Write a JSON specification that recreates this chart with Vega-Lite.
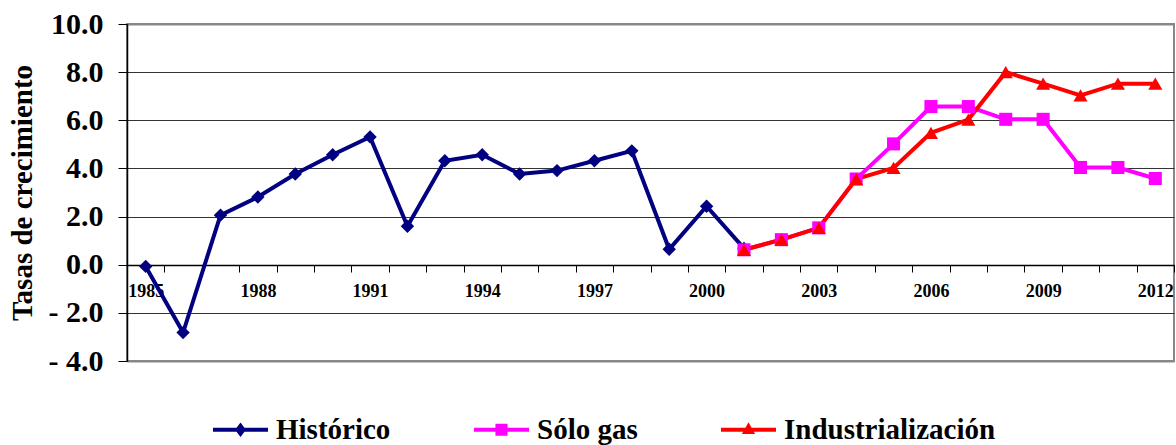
{
  "$schema": "https://vega.github.io/schema/vega-lite/v6.json",
  "width": 1047,
  "height": 337,
  "autosize": {"type": "none"},
  "padding": {"left": 127, "top": 24, "right": 2, "bottom": 84},
  "background": "white",
  "config": {
    "font": "Liberation Serif",
    "view": {"stroke": "#888888", "strokeWidth": 2}
  },
  "data": {
    "values": [
      {"year": 1985, "series": "Histórico", "value": -0.07},
      {"year": 1986, "series": "Histórico", "value": -2.82},
      {"year": 1987, "series": "Histórico", "value": 2.06},
      {"year": 1988, "series": "Histórico", "value": 2.81},
      {"year": 1989, "series": "Histórico", "value": 3.77},
      {"year": 1990, "series": "Histórico", "value": 4.57},
      {"year": 1991, "series": "Histórico", "value": 5.31},
      {"year": 1992, "series": "Histórico", "value": 1.6},
      {"year": 1993, "series": "Histórico", "value": 4.32},
      {"year": 1994, "series": "Histórico", "value": 4.57},
      {"year": 1995, "series": "Histórico", "value": 3.77},
      {"year": 1996, "series": "Histórico", "value": 3.91},
      {"year": 1997, "series": "Histórico", "value": 4.32},
      {"year": 1998, "series": "Histórico", "value": 4.73},
      {"year": 1999, "series": "Histórico", "value": 0.64},
      {"year": 2000, "series": "Histórico", "value": 2.43},
      {"year": 2001, "series": "Histórico", "value": 0.68},
      {"year": 2001, "series": "Sólo gas", "value": 0.62},
      {"year": 2002, "series": "Sólo gas", "value": 1.04},
      {"year": 2003, "series": "Sólo gas", "value": 1.53},
      {"year": 2004, "series": "Sólo gas", "value": 3.56},
      {"year": 2005, "series": "Sólo gas", "value": 5.02},
      {"year": 2006, "series": "Sólo gas", "value": 6.57},
      {"year": 2007, "series": "Sólo gas", "value": 6.57},
      {"year": 2008, "series": "Sólo gas", "value": 6.04},
      {"year": 2009, "series": "Sólo gas", "value": 6.04},
      {"year": 2010, "series": "Sólo gas", "value": 4.04},
      {"year": 2011, "series": "Sólo gas", "value": 4.04},
      {"year": 2012, "series": "Sólo gas", "value": 3.58},
      {"year": 2001, "series": "Industrialización", "value": 0.62},
      {"year": 2002, "series": "Industrialización", "value": 1.04},
      {"year": 2003, "series": "Industrialización", "value": 1.53},
      {"year": 2004, "series": "Industrialización", "value": 3.56},
      {"year": 2005, "series": "Industrialización", "value": 4.02},
      {"year": 2006, "series": "Industrialización", "value": 5.48},
      {"year": 2007, "series": "Industrialización", "value": 6.03},
      {"year": 2008, "series": "Industrialización", "value": 8.0},
      {"year": 2009, "series": "Industrialización", "value": 7.52},
      {"year": 2010, "series": "Industrialización", "value": 7.03},
      {"year": 2011, "series": "Industrialización", "value": 7.52},
      {"year": 2012, "series": "Industrialización", "value": 7.52}
    ]
  },
  "encoding": {
    "x": {
      "field": "year",
      "type": "ordinal",
      "scale": {"paddingInner": 0, "paddingOuter": 0},
      "axis": {
        "title": null,
        "orient": "bottom",
        "offset": -96,
        "labelAngle": 0,
        "labelExpr": "(datum.value - 1985) % 3 == 0 ? '' + datum.value : ''",
        "labelFont": "Liberation Serif",
        "labelFontWeight": "bold",
        "labelFontSize": 18,
        "labelColor": "black",
        "labelPadding": 10,
        "tickBand": "extent",
        "tickSize": 7,
        "tickColor": "black",
        "domainColor": "black",
        "domainWidth": 1.5,
        "grid": false,
        "zindex": 0
      }
    },
    "y": {
      "field": "value",
      "type": "quantitative",
      "scale": {"domain": [-4, 10], "nice": false, "zero": false},
      "axis": {
        "title": "Tasas de crecimiento",
        "titleFont": "Liberation Serif",
        "titleFontWeight": "bold",
        "titleFontSize": 29,
        "titleColor": "black",
        "titlePadding": 11,
        "values": [-4, -2, 0, 2, 4, 6, 8, 10],
        "labelExpr": "datum.value < 0 ? '- ' + format(-datum.value, '.1f') : format(datum.value, '.1f')",
        "labelFont": "Times New Roman, Liberation Serif, serif",
        "labelFontWeight": 700,
        "labelFontSize": 30,
        "labelColor": "black",
        "labelPadding": 15,
        "tickSize": 9,
        "tickColor": "black",
        "domainColor": "black",
        "domainWidth": 1.5,
        "grid": true,
        "gridColor": {"condition": {"test": "datum.value == 10 || datum.value == -4", "value": "#888888"}, "value": "#333333"},
        "gridWidth": {"condition": {"test": "datum.value == 10 || datum.value == -4", "value": 2}, "value": 1}
      }
    }
  },
  "layer": [
    {
      "mark": {"type": "line", "strokeWidth": 4},
      "encoding": {
        "color": {
          "field": "series",
          "type": "nominal",
          "scale": {
            "domain": ["Histórico", "Sólo gas", "Industrialización"],
            "range": ["#000080", "#FF00FF", "#FF0000"]
          },
          "legend": {
            "title": null,
            "orient": "none",
            "direction": "horizontal",
            "legendX": 86,
            "legendY": 378,
            "padding": 0,
            "symbolSize": 3025,
            "symbolStrokeWidth": 0,
            "labelFont": "Times New Roman, Liberation Serif, serif",
            "labelFontWeight": 700,
            "labelFontSize": 29,
            "labelColor": "black",
            "labelOffset": 8,
            "labelLimit": 400,
            "columnPadding": 83,
            "encode": {
              "symbols": {
                "update": {
                  "shape": {"signal": "datum.value === 'Histórico' ? 'M-1,-0.073L1,-0.073L1,0.073L-1,0.073Z M0,-0.26L0.2,0L0,0.26L-0.2,0Z' : (datum.value === 'Sólo gas' ? 'M-1,-0.073L1,-0.073L1,0.073L-1,0.073Z M-0.22,-0.22L0.22,-0.22L0.22,0.22L-0.22,0.22Z' : 'M-1,-0.073L1,-0.073L1,0.073L-1,0.073Z M0,-0.27L0.24,0.15L-0.24,0.15Z')"},
                  "fill": {"signal": "scale('color', datum.value)"},
                  "stroke": {"value": "transparent"},
                  "strokeWidth": {"value": 0},
                  "opacity": {"value": 1}
                }
              }
            }
          }
        }
      }
    },
    {
      "transform": [{"filter": "datum.series === 'Histórico'"}],
      "mark": {"type": "point", "filled": true, "opacity": 1, "shape": "diamond", "size": 180},
      "encoding": {"color": {"field": "series", "type": "nominal", "legend": null}}
    },
    {
      "transform": [{"filter": "datum.series === 'Sólo gas'"}],
      "mark": {"type": "point", "filled": true, "opacity": 1, "shape": "square", "size": 170},
      "encoding": {"color": {"field": "series", "type": "nominal", "legend": null}}
    },
    {
      "transform": [{"filter": "datum.series === 'Industrialización'"}],
      "mark": {"type": "point", "filled": true, "opacity": 1, "shape": "triangle-up", "size": 200},
      "encoding": {"color": {"field": "series", "type": "nominal", "legend": null}}
    }
  ]
}
